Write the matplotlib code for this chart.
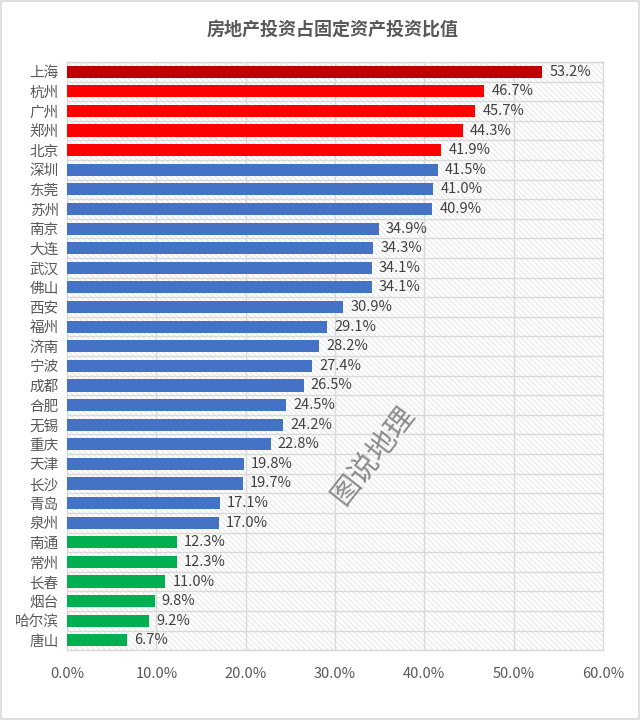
import matplotlib.pyplot as plt
from matplotlib.patches import Rectangle
from matplotlib.ticker import FuncFormatter, MultipleLocator

plt.rcParams['font.family'] = ['Noto Sans CJK SC', 'DejaVu Sans']
plt.rcParams['hatch.linewidth'] = 0.6

cities = ['上海', '杭州', '广州', '郑州', '北京', '深圳', '东莞', '苏州', '南京', '大连',
          '武汉', '佛山', '西安', '福州', '济南', '宁波', '成都', '合肥', '无锡', '重庆',
          '天津', '长沙', '青岛', '泉州', '南通', '常州', '长春', '烟台', '哈尔滨', '唐山']
ratios = [53.2, 46.7, 45.7, 44.3, 41.9, 41.5, 41.0, 40.9, 34.9, 34.3,
          34.1, 34.1, 30.9, 29.1, 28.2, 27.4, 26.5, 24.5, 24.2, 22.8,
          19.8, 19.7, 17.1, 17.0, 12.3, 12.3, 11.0, 9.8, 9.2, 6.7]
groups = ['top'] + ['red'] * 4 + ['blue'] * 19 + ['green'] * 6

palette = {'top': '#C00000', 'red': '#FF0000', 'blue': '#4472C4', 'green': '#00B050'}
bar_colors = [palette[g] for g in groups]

fig = plt.figure(figsize=(6.4, 7.2), dpi=100)
fig.patch.set_facecolor('white')
fig.patches.append(Rectangle((0.002, 0.002), 0.996, 0.996, transform=fig.transFigure,
                             fill=False, edgecolor='#D9D9D9', linewidth=1.2))

ax = fig.add_axes([0.105, 0.097, 0.837, 0.817])

n = len(cities)
ypos = list(range(n))

# hatched plot area background
ax.add_patch(Rectangle((0, -0.5), 60, n, hatch='\\\\\\\\\\\\', facecolor='white',
                       edgecolor='#E2E2E2', linewidth=0, zorder=0))

ax.barh(ypos, ratios, height=0.62, color=bar_colors, zorder=3)

for y, v in zip(ypos, ratios):
    ax.text(v + 0.8, y, f'{v:.1f}%', va='center', ha='left', fontsize=10.5,
            color='#404040', fontweight='light', zorder=4)

ax.set_xlim(0, 60)
ax.set_ylim(n - 0.5, -0.5)
ax.xaxis.set_major_locator(MultipleLocator(10))
ax.xaxis.set_major_formatter(FuncFormatter(lambda v, p: f'{v:.1f}%'))
ax.set_yticks(ypos)
ax.set_yticklabels(cities)
for lbl in ax.get_xticklabels() + ax.get_yticklabels():
    lbl.set_fontweight('light')

# grid lines: vertical at ticks, horizontal between rows
for xv in range(10, 60, 10):
    ax.axvline(xv, color='#D9D9D9', linewidth=1, zorder=1)
for yb in range(n + 1):
    ax.axhline(yb - 0.5, color='#D9D9D9', linewidth=1, zorder=1)

for s in ax.spines.values():
    s.set_color('#D9D9D9')
    s.set_linewidth(1)

ax.tick_params(axis='both', length=0, labelsize=10.5, labelcolor='#595959')
ax.tick_params(axis='x', pad=12)
ax.tick_params(axis='y', pad=6)

fig.text(0.52, 0.96, '房地产投资占固定资产投资比值', ha='center', va='center',
         fontsize=13, fontweight='bold', color='#595959')

# watermark
fig.text(0.585, 0.367, '图说地理', ha='center', va='center', fontsize=21,
         color='#808080', alpha=0.9, rotation=52, style='italic')

fig.savefig('out.png', dpi=100)
